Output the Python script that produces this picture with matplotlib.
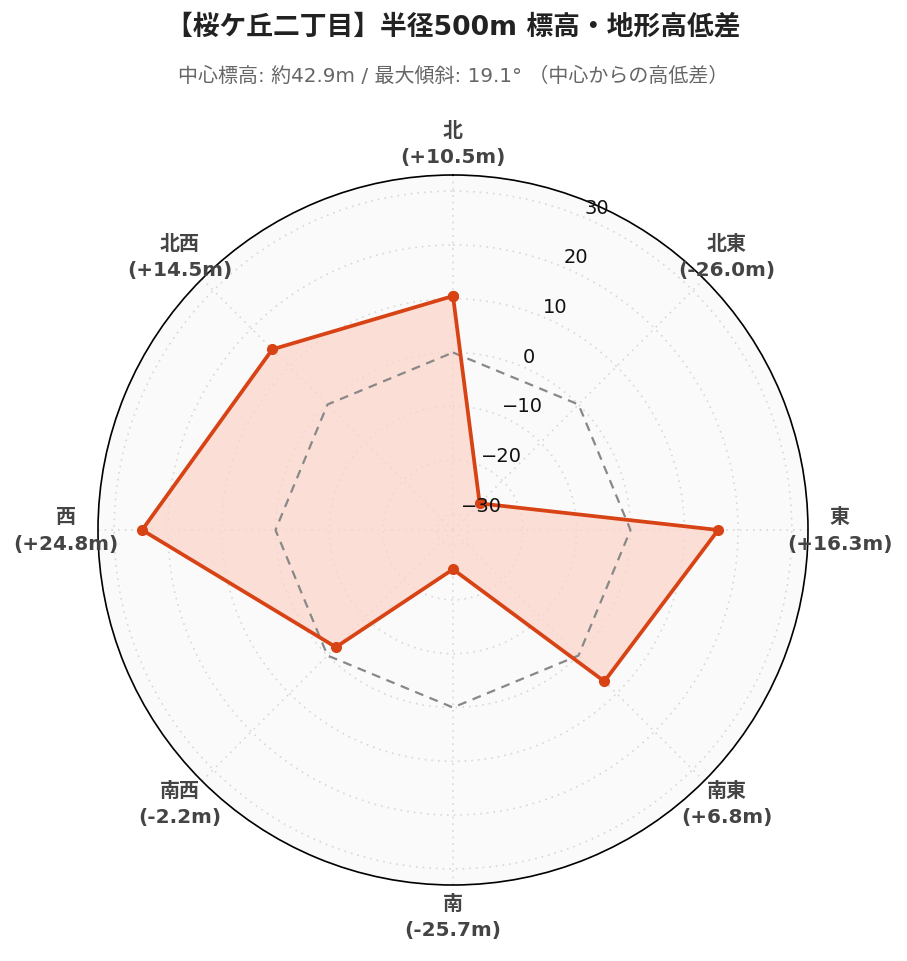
import numpy as np
import matplotlib
matplotlib.use("Agg")
import matplotlib.pyplot as plt

plt.rcParams['font.family'] = ['DejaVu Sans', 'Noto Sans CJK JP']

directions = ["北", "北東", "東", "南東", "南", "南西", "西", "北西"]
values = [10.5, -26.0, 16.3, 6.8, -25.7, -2.2, 24.8, 14.5]
reference = [0, 0, 0, 0, 0, 0, 0, 0]
r_ticks = [-30, -20, -10, 0, 10, 20, 30]
r_range = (-33, 33)

title = "【桜ケ丘二丁目】半径500m 標高・地形高低差"
subtitle = "中心標高: 約42.9m / 最大傾斜: 19.1° （中心からの高低差）"

W, H = 907, 962
fig = plt.figure(figsize=(W / 100, H / 100), dpi=100)
cx, cy, R = 453, 531, 355
ax = fig.add_axes([(cx - R) / W, (H - cy - R) / H, 2 * R / W, 2 * R / H], projection='polar')
ax.set_theta_zero_location('N')
ax.set_theta_direction(-1)
ax.set_ylim(*r_range)
ax.set_facecolor('#fafafa')

theta = np.deg2rad(np.arange(len(directions)) * 45.0)
th_c = np.append(theta, theta[0])
v_c = np.append(values, values[0])
ref_c = np.append(reference, reference[0])

ax.set_xticks(theta)
ax.set_xticklabels([])
ax.set_yticks(r_ticks)
ax.set_yticklabels([])
ax.grid(True, color='#d8d8d8', linestyle=(0, (1, 3)), linewidth=1.2)
ax.spines['polar'].set_color('black')
ax.spines['polar'].set_linewidth(1.2)

ax.plot(th_c, ref_c, color='#888888', linestyle=(0, (4, 3)), linewidth=1.6, zorder=3)
ax.fill(th_c, v_c, color='#fcd6cb', alpha=0.75, zorder=2)
ax.plot(th_c, v_c, color='#d84315', linewidth=2.7, marker='o', markersize=7, zorder=4)

# radial tick labels along 22.5 deg
for t in r_ticks:
    lbl = f"{t}".replace('-', '\u2212')
    ax.annotate(lbl, xy=(np.deg2rad(22.5), t), xytext=(1, 7), textcoords='offset points',
                ha='left', va='center', fontsize=14, color='#111111', zorder=5)

# angular labels
for th, d, v in zip(theta, directions, values):
    ax.text(th, 38.9, f"{d}\n({v:+.1f}m)", ha='center', va='center', fontsize=14.4,
            fontweight='bold', color='#444444', linespacing=1.5, clip_on=False)

fig.text(0.5, 1 - 27 / H, title, ha='center', va='center', fontsize=19.3, fontweight='bold', color='#222222')
fig.text(0.5, 1 - 76 / H, subtitle, ha='center', va='center', fontsize=14.4, color='#666666')

fig.savefig('out.png', dpi=100)
